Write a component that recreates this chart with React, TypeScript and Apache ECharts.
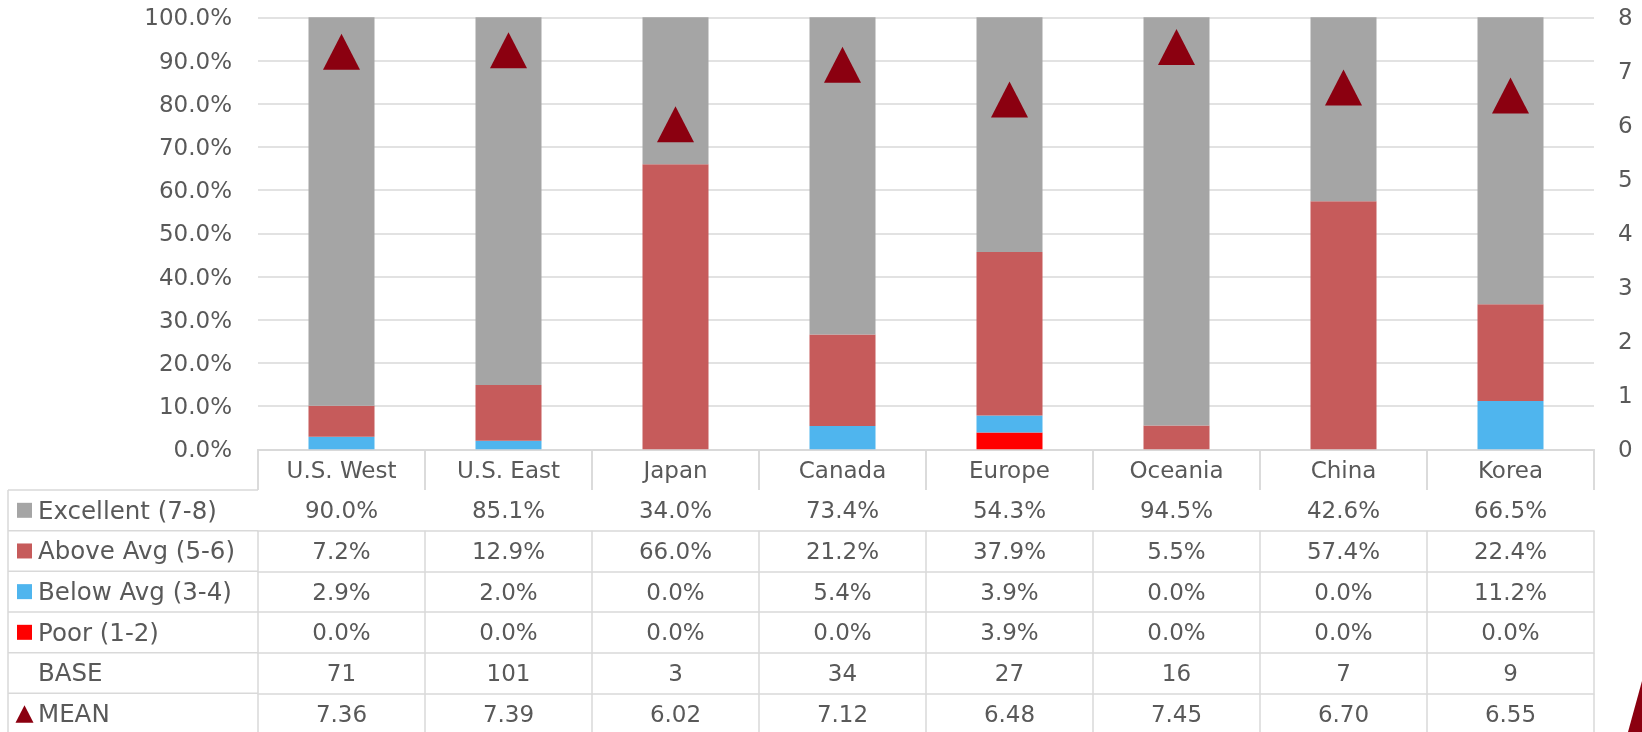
import React, { useEffect, useRef } from "react";
import * as echarts from "echarts";

const categories = ["U.S. West", "U.S. East", "Japan", "Canada", "Europe", "Oceania", "China", "Korea"];
const excellent = [90.0, 85.1, 34.0, 73.4, 54.3, 94.5, 42.6, 66.5];
const aboveAvg = [7.2, 12.9, 66.0, 21.2, 37.9, 5.5, 57.4, 22.4];
const belowAvg = [2.9, 2.0, 0.0, 5.4, 3.9, 0.0, 0.0, 11.2];
const poor = [0.0, 0.0, 0.0, 0.0, 3.9, 0.0, 0.0, 0.0];
const base = [71, 101, 3, 34, 27, 16, 7, 9];
const mean = [7.36, 7.39, 6.02, 7.12, 6.48, 7.45, 6.70, 6.55];

const seriesNames = ["Excellent (7-8)", "Above Avg (5-6)", "Below Avg (3-4)", "Poor (1-2)"];
const seriesColors = ["#A5A5A5", "#C65B5B", "#4FB5EE", "#FF0000"];
const meanColor = "#8B0010";
const leftTicks = { min: 0, max: 100, interval: 10 };
const rightTicks = { min: 0, max: 8, interval: 1 };

const W = 1642;
const H = 732;
const FONT = "DejaVu Sans";
const TEXT = "#595959";
const LINE = "#D9D9D9";
const gridLeft = 258;
const gridRight = 48;
const gridTop = 17.3;
const axisY = 449.3;
const rowH = 40.67;

export default function App() {
  const ref = useRef<HTMLDivElement>(null);
  useEffect(() => {
    if (!ref.current) return;
    const chart = echarts.init(ref.current, null, { renderer: "svg" });
    const rows: string[][] = [
      excellent.map((v) => v.toFixed(1) + "%"),
      aboveAvg.map((v) => v.toFixed(1) + "%"),
      belowAvg.map((v) => v.toFixed(1) + "%"),
      poor.map((v) => v.toFixed(1) + "%"),
      base.map((v) => String(v)),
      mean.map((v) => v.toFixed(2)),
    ];
    const tableAxis = (data: string[], k: number) => ({
      type: "category",
      data,
      position: "bottom",
      offset: k * rowH,
      boundaryGap: true,
      axisLine: { show: true, lineStyle: { color: LINE, width: 1.5 } },
      axisTick: { show: true, interval: 0, length: rowH, lineStyle: { color: LINE, width: 1.5 } },
      axisLabel: {
        interval: 0,
        margin: rowH / 2,
        verticalAlign: "middle",
        color: TEXT,
        fontSize: 23,
        fontFamily: FONT,
      },
      splitLine: { show: false },
    });
    const labelRows = ["Excellent (7-8)", "Above Avg (5-6)", "Below Avg (3-4)", "Poor (1-2)", "BASE", "MEAN"];
    const graphics: any[] = [];
    const tableTop = axisY + rowH;
    graphics.push({
      type: "line",
      shape: { x1: 8, y1: tableTop, x2: 8, y2: H },
      style: { stroke: LINE, lineWidth: 1.5 },
    });
    for (let i = 0; i < labelRows.length; i++) {
      const y0 = tableTop + i * rowH;
      const cy = y0 + rowH / 2;
      graphics.push({
        type: "line",
        shape: { x1: 8, y1: y0, x2: gridLeft, y2: y0 },
        style: { stroke: LINE, lineWidth: 1.5 },
      });
      if (i < 4) {
        graphics.push({
          type: "rect",
          shape: { x: 17, y: cy - 7.5, width: 15, height: 15 },
          style: { fill: seriesColors[i] },
        });
      } else if (i === 5) {
        graphics.push({
          type: "polygon",
          shape: { points: [[15.5, cy + 9], [33.5, cy + 9], [24.5, cy - 8.5]] },
          style: { fill: meanColor },
        });
      }
      graphics.push({
        type: "text",
        x: 38,
        y: cy,
        style: { text: labelRows[i], fill: TEXT, fontSize: 24.5, fontFamily: FONT, verticalAlign: "middle", align: "left" },
      });
    }
    graphics.push({
      type: "polygon",
      shape: { points: [[1628, H], [1642, 681], [1642, H]] },
      style: { fill: meanColor },
    });

    chart.setOption({
      animation: false,
      textStyle: { fontFamily: FONT },
      grid: { left: gridLeft, right: gridRight, top: gridTop, bottom: H - axisY, containLabel: false },
      xAxis: [
        tableAxis(categories, 0),
        ...rows.map((r, i) => tableAxis(r, i + 1)),
      ],
      yAxis: [
        {
          type: "value",
          ...leftTicks,
          axisLine: { show: false },
          axisTick: { show: false },
          splitLine: { show: true, lineStyle: { color: LINE, width: 1.5 } },
          axisLabel: { formatter: (v: number) => v.toFixed(1) + "%", color: TEXT, fontSize: 23, fontFamily: FONT, margin: 26 },
        },
        {
          type: "value",
          ...rightTicks,
          position: "right",
          axisLine: { show: false },
          axisTick: { show: false },
          splitLine: { show: false },
          axisLabel: { color: TEXT, fontSize: 23, fontFamily: FONT, margin: 24 },
        },
      ],
      series: [
        { name: seriesNames[3], type: "bar", stack: "s", data: poor, barWidth: 66, itemStyle: { color: seriesColors[3] }, xAxisIndex: 0, yAxisIndex: 0 },
        { name: seriesNames[2], type: "bar", stack: "s", data: belowAvg, barWidth: 66, itemStyle: { color: seriesColors[2] }, xAxisIndex: 0, yAxisIndex: 0 },
        { name: seriesNames[1], type: "bar", stack: "s", data: aboveAvg, barWidth: 66, itemStyle: { color: seriesColors[1] }, xAxisIndex: 0, yAxisIndex: 0 },
        { name: seriesNames[0], type: "bar", stack: "s", data: excellent, barWidth: 66, itemStyle: { color: seriesColors[0] }, xAxisIndex: 0, yAxisIndex: 0 },
        {
          name: "MEAN",
          type: "scatter",
          data: mean,
          symbol: "triangle",
          symbolSize: [37, 36],
          itemStyle: { color: meanColor, opacity: 1 },
          xAxisIndex: 0,
          yAxisIndex: 1,
          z: 5,
        },
      ],
      graphic: graphics,
    });
    return () => chart.dispose();
  }, []);
  return <div ref={ref} style={{ position: "fixed", left: 0, top: 0, width: W, height: H }} />;
}
